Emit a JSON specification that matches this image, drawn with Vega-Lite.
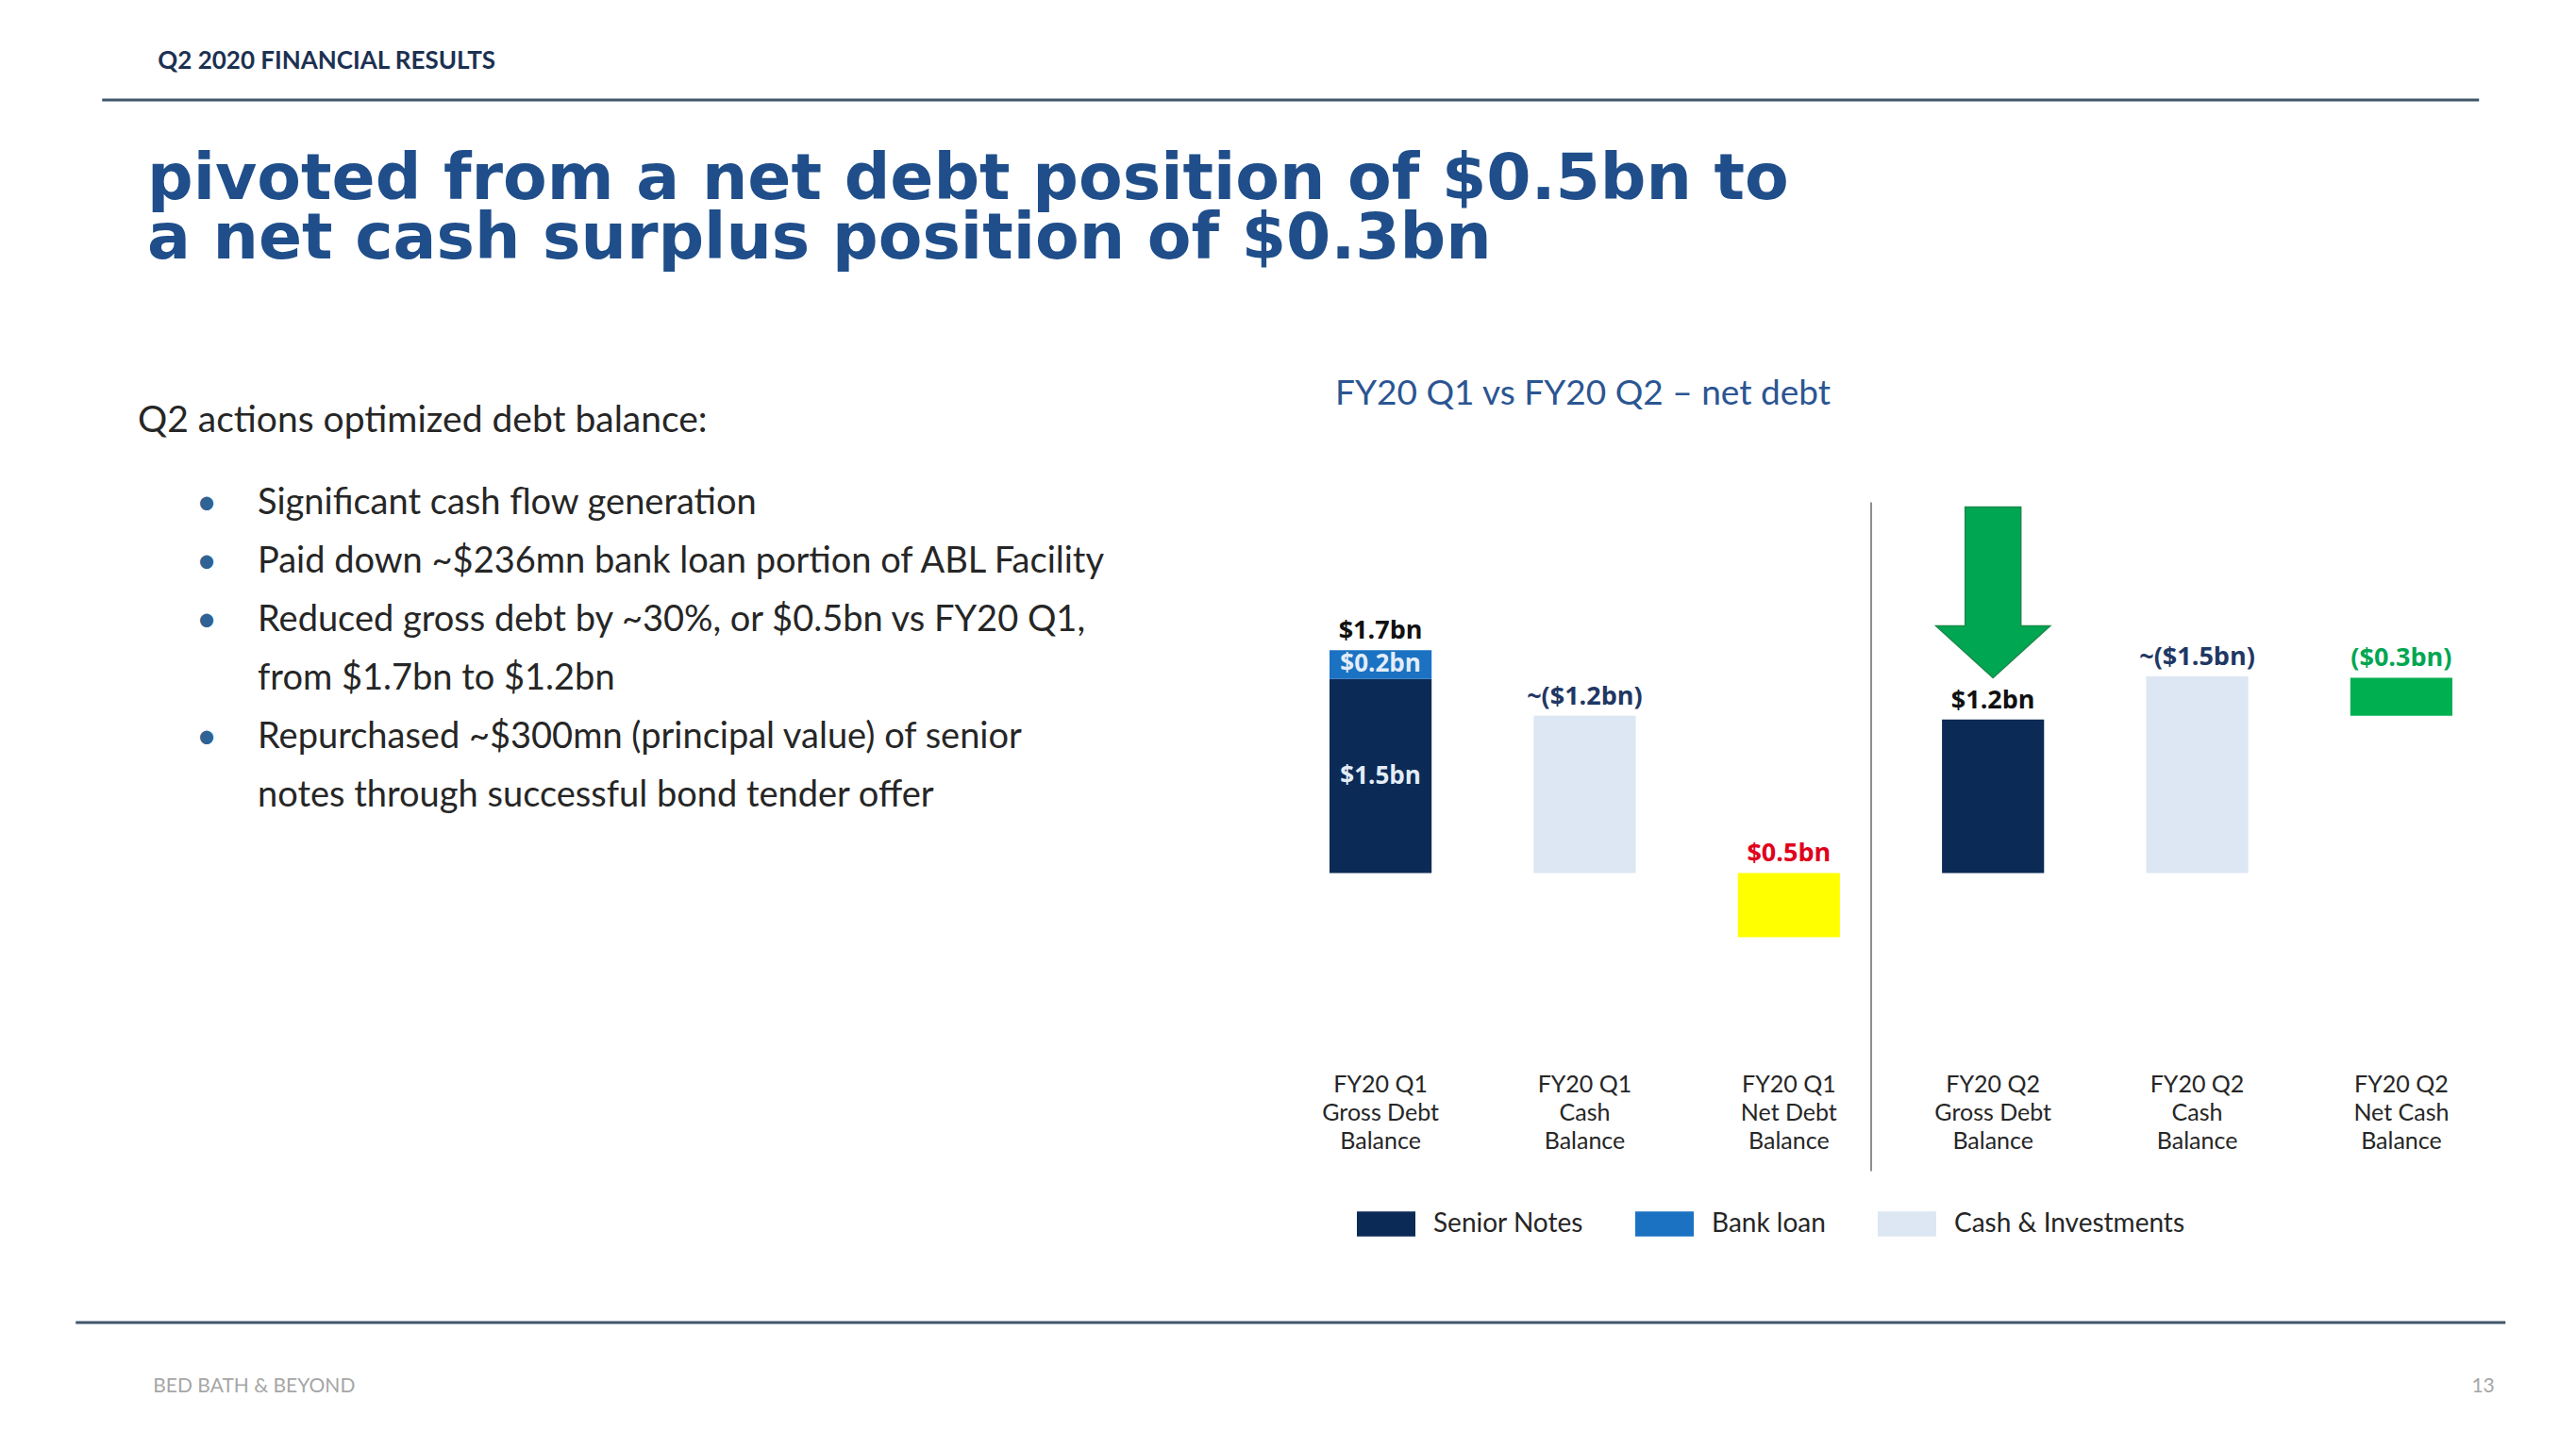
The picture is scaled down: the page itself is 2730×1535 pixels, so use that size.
{
  "$schema": "https://vega.github.io/schema/vega-lite/v6.json",
  "background": "white",
  "padding": {"left": 78, "top": 0, "right": 0, "bottom": 0},
  "config": {
    "view": {"stroke": null},
    "font": "Lato"
  },
  "title": {"text": "13", "orient": "bottom", "anchor": "end", "frame": "bounds", "baseline": "top", "offset": -21, "dx": -13, "font": "Lato", "fontSize": 21, "fontWeight": "normal", "color": "#a6a6a6"},
  "center": true,
  "spacing": 48.5,
  "vconcat": [
    {
      "width": 2519,
      "height": 106,
      "title": {"text": "Q2 2020 FINANCIAL RESULTS", "orient": "top", "anchor": "start", "frame": "group", "baseline": "top", "offset": -78, "dx": 59, "font": "Lato", "fontSize": 26, "fontWeight": "bold", "color": "#1c3152"},
      "data": {"values": [{"element": "header rule"}]},
      "mark": {"type": "rule", "color": "#3f566b", "strokeWidth": 3},
      "encoding": {"y": {"datum": 0, "type": "quantitative", "scale": {"domain": [0, 1]}, "axis": null}}
    },
    {
      "title": {"text": ["pivoted from a net debt position of $0.5bn to", "a net cash surplus position of $0.3bn"], "orient": "top", "anchor": "start", "frame": "group", "baseline": "top", "offset": 111, "dx": 18, "font": "DejaVu Sans", "fontSize": 68, "fontWeight": "bold", "lineHeight": 63, "color": "#1f4e8a"},
      "bounds": "flush",
      "spacing": 171,
      "hconcat": [
        {
          "width": 1100,
          "height": 924,
          "title": {"text": "Q2 actions optimized debt balance:", "orient": "top", "anchor": "start", "frame": "group", "baseline": "top", "offset": -38, "dx": 8, "font": "Lato", "fontSize": 39, "fontWeight": "normal", "color": "#262626"},
          "data": {"values": [
            {"line": 1, "bullet": true, "text": "Significant cash flow generation"},
            {"line": 2, "bullet": true, "text": "Paid down ~$236mn bank loan portion of ABL Facility"},
            {"line": 3, "bullet": true, "text": "Reduced gross debt by ~30%, or $0.5bn vs FY20 Q1,"},
            {"line": 4, "bullet": false, "text": "from $1.7bn to $1.2bn"},
            {"line": 5, "bullet": true, "text": "Repurchased ~$300mn (principal value) of senior"},
            {"line": 6, "bullet": false, "text": "notes through successful bond tender offer"}
          ]},
          "layer": [
            {
              "mark": {"type": "text", "align": "left", "baseline": "top", "font": "Lato", "fontSize": 38, "color": "#262626"},
              "encoding": {
                "x": {"datum": 1, "type": "quantitative", "scale": {"domain": [-0.063, 8.598], "nice": false, "zero": false}, "axis": null},
                "y": {"field": "line", "type": "quantitative", "scale": {"domain": [-0.404, 14.492], "reverse": true, "nice": false, "zero": false}, "axis": null},
                "text": {"field": "text"}
              }
            },
            {
              "transform": [{"filter": "datum.bullet"}],
              "mark": {"type": "text", "align": "center", "baseline": "top", "font": "Lato", "fontSize": 38, "color": "#2f6395"},
              "encoding": {
                "x": {"datum": 0.575, "type": "quantitative"},
                "y": {"field": "line", "type": "quantitative"},
                "text": {"value": "•"}
              }
            }
          ]
        },
        {
          "width": 1190,
          "height": 654,
          "title": {"text": "FY20 Q1 vs FY20 Q2 – net debt", "orient": "top", "anchor": "start", "frame": "group", "baseline": "top", "offset": -9, "dx": 6, "font": "Lato", "fontSize": 37, "fontWeight": "normal", "color": "#2b5592"},
          "data": {"values": [
            {"category": "FY20 Q1 Gross Debt Balance", "series": "Senior Notes", "low": 0, "high": 1.48, "inner_label": "$1.5bn"},
            {"category": "FY20 Q1 Gross Debt Balance", "series": "Bank loan", "low": 1.48, "high": 1.7, "inner_label": "$0.2bn", "total_label": "$1.7bn"},
            {"category": "FY20 Q1 Cash Balance", "series": "Cash & Investments", "low": 0, "high": 1.2, "total_label": "~($1.2bn)"},
            {"category": "FY20 Q1 Net Debt Balance", "series": "Net debt", "low": -0.49, "high": 0, "total_label": "$0.5bn"},
            {"category": "FY20 Q2 Gross Debt Balance", "series": "Senior Notes", "low": 0, "high": 1.17, "total_label": "$1.2bn"},
            {"category": "FY20 Q2 Cash Balance", "series": "Cash & Investments", "low": 0, "high": 1.5, "total_label": "~($1.5bn)"},
            {"category": "FY20 Q2 Net Cash Balance", "series": "Net cash", "low": 1.2, "high": 1.49, "total_label": "($0.3bn)"}
          ]},
          "encoding": {
            "x": {
              "field": "category",
              "type": "nominal",
              "scale": {"type": "band", "domain": ["FY20 Q1 Gross Debt Balance", "FY20 Q1 Cash Balance", "FY20 Q1 Net Debt Balance", "FY20 Q2 Gross Debt Balance", "FY20 Q2 Cash Balance", "FY20 Q2 Net Cash Balance"], "paddingInner": 0.5, "paddingOuter": 0},
              "axis": {
                "orient": "bottom",
                "title": null,
                "domain": false,
                "ticks": false,
                "tickSize": 0,
                "grid": false,
                "labelAngle": 0,
                "labelPadding": 56,
                "labelBaseline": "top",
                "labelFont": "Lato",
                "labelFontSize": 25,
                "labelColor": "#262626",
                "labelLineHeight": 30,
                "labelExpr": "[slice(datum.label, 0, 7), slice(datum.label, 8, length(datum.label) - 8), slice(datum.label, length(datum.label) - 7)]"
              }
            }
          },
          "layer": [
            {
              "mark": {"type": "bar"},
              "encoding": {
                "y": {"field": "high", "type": "quantitative", "scale": {"domain": [-1.1223, 3.5827], "nice": false, "zero": false}, "axis": null},
                "y2": {"field": "low"},
                "color": {
                  "field": "series",
                  "type": "nominal",
                  "scale": {"domain": ["Senior Notes", "Bank loan", "Cash & Investments", "Net debt", "Net cash"], "range": ["#0b2a56", "#1b72c2", "#dce7f3", "#ffff00", "#00b050"]},
                  "legend": {
                    "values": ["Senior Notes", "Bank loan", "Cash & Investments"],
                    "orient": "none",
                    "legendX": 29,
                    "legendY": 839,
                    "direction": "horizontal",
                    "title": null,
                    "symbolType": "M-1,-0.43L1,-0.43L1,0.43L-1,0.43Z",
                    "symbolSize": 3844,
                    "symbolStrokeWidth": 0,
                    "symbolOpacity": 1,
                    "labelFont": "Lato",
                    "labelFontSize": 28,
                    "labelColor": "#262626",
                    "labelOffset": 19,
                    "labelLimit": 400,
                    "columnPadding": 55,
                    "padding": 0
                  }
                }
              }
            },
            {
              "data": {"values": [{"divider": "FY20 Q1 | FY20 Q2"}]},
              "mark": {"type": "rule", "color": "#8e8e8e", "strokeWidth": 2},
              "encoding": {
                "x": {"datum": "FY20 Q1 Net Debt Balance", "bandPosition": 1.306},
                "y": {"datum": 2.827, "type": "quantitative"},
                "y2": {"datum": -2.273}
              }
            },
            {
              "transform": [{"filter": "datum.category === 'FY20 Q2 Gross Debt Balance'"}],
              "mark": {"type": "point", "shape": "M-0.295,-2.254L0.295,-2.254L0.295,-0.994L0.605,-0.994L0,-0.444L-0.605,-0.994L-0.295,-0.994Z", "size": 40000, "filled": true, "color": "#00a651", "fill": "#00a651", "stroke": "#1b8a4a", "strokeWidth": 1.5, "opacity": 1},
              "encoding": {
                "y": {"field": "high", "type": "quantitative"}
              }
            },
            {
              "transform": [{"filter": "datum.total_label"}],
              "mark": {"type": "text", "align": "center", "baseline": "bottom", "dy": -6, "font": "Open Sans", "fontWeight": "bold", "fontSize": 27},
              "encoding": {
                "y": {"field": "high", "type": "quantitative"},
                "text": {"field": "total_label"},
                "color": {
                  "field": "series",
                  "type": "nominal",
                  "scale": {"domain": ["Senior Notes", "Bank loan", "Cash & Investments", "Net debt", "Net cash"], "range": ["#111111", "#111111", "#1f3864", "#e0001b", "#00a651"]},
                  "legend": null
                }
              }
            },
            {
              "transform": [
                {"filter": "datum.inner_label"},
                {"fold": ["low", "high"], "as": ["edge", "value"]}
              ],
              "mark": {"type": "text", "align": "center", "baseline": "middle", "font": "Open Sans", "fontWeight": "bold", "fontSize": 26, "color": "#e3edf8"},
              "encoding": {
                "y": {"aggregate": "mean", "field": "value", "type": "quantitative"},
                "text": {"field": "inner_label"},
                "detail": {"field": "series"}
              }
            }
          ],
          "resolve": {"scale": {"color": "independent"}}
        }
      ]
    },
    {
      "width": 2575,
      "height": 66,
      "title": {"text": "BED BATH & BEYOND", "orient": "bottom", "anchor": "start", "frame": "group", "baseline": "top", "offset": -9, "dx": 82, "font": "Lato", "fontSize": 21, "fontWeight": "normal", "color": "#a6a6a6"},
      "data": {"values": [{"element": "footer rule"}]},
      "mark": {"type": "rule", "color": "#3f566b", "strokeWidth": 3},
      "encoding": {"y": {"datum": 1, "type": "quantitative", "scale": {"domain": [0, 1]}, "axis": null}}
    }
  ]
}
